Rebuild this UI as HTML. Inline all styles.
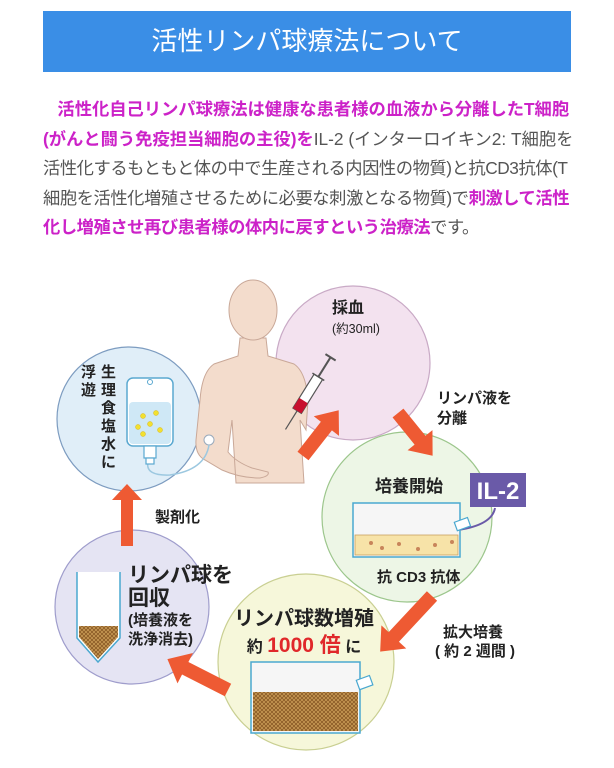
<!DOCTYPE html>
<html><head><meta charset="utf-8"><style>
html,body{margin:0;padding:0;background:#fff;}
body{width:614px;height:768px;position:relative;overflow:hidden;font-family:"Liberation Sans","Noto Sans CJK JP",sans-serif;}
.hd{position:absolute;left:43px;top:11px;width:528px;height:61px;background:#3a8ee6;color:#fff;font-size:26px;text-align:center;line-height:61px;}
.p{position:absolute;left:43px;top:95px;width:540px;font-size:17.3px;line-height:29.5px;color:#555;white-space:nowrap;}
.m{color:#cc22c8;font-weight:bold;}
.t{letter-spacing:-0.45px;}
svg{position:absolute;left:0;top:0;}
</style></head><body>
<div class="hd">活性リンパ球療法について</div>
<div class="p">&nbsp;&nbsp;&nbsp;<span class="m">活性化自己リンパ球療法は健康な患者様の血液から分離したT細胞</span><br><span class="m">(がんと闘う免疫担当細胞の主役)を</span>IL-2 (インターロイキン2: T細胞を<br><span class="t">活性化するもともと体の中で生産される内因性の物質)と抗CD3抗体(T</span><br><span class="t">細胞を活性化増殖させるために必要な刺激となる物質)で<span class="m">刺激して活性</span></span><br><span class="t"><span class="m">化し増殖させ再び患者様の体内に戻すという治療法</span>です。</span></div>
<svg width="614" height="768" font-family="Liberation Sans, Noto Sans CJK JP, sans-serif">
<defs>
<pattern id="hx" width="4" height="4" patternUnits="userSpaceOnUse"><rect width="4" height="4" fill="#c89a55"/><path d="M0 4L4 0M0 0L4 4" stroke="#8a5a25" stroke-width="0.8"/></pattern>
</defs>
<circle cx="129" cy="419" r="72" fill="#e0eef8" stroke="#7d9cc0" stroke-width="1.2"/>
<circle cx="353" cy="363" r="77" fill="#f3e2ef" stroke="#c9aac6" stroke-width="1.2"/>
<circle cx="407" cy="517" r="85" fill="#edf6e6" stroke="#9cc68c" stroke-width="1.2"/>
<circle cx="306" cy="662" r="88" fill="#f6f7da" stroke="#c9cf92" stroke-width="1.2"/>
<circle cx="132" cy="607" r="77" fill="#e5e4f3" stroke="#9f9dcc" stroke-width="1.2"/>
<g fill="#f3dccc" stroke="#c9a898" stroke-width="1">
<path d="M240 338 L238 356 L214 364 Q202 372 200 400 L196 440 Q195 455 205 460 L222 470 Q240 478 260 478 Q270 476 268 472 L252 468 Q236 462 228 452 L232 420 L236 483 L304 483 L300 420 L306 430 L308 400 Q306 372 294 364 L268 356 L266 338 Z"/>
<ellipse cx="253" cy="310" rx="24" ry="30"/>
</g>
<circle cx="209" cy="440" r="5" fill="#fff" stroke="#9ab" stroke-width="1"/>
<path d="M209 445 Q205 470 170 475 Q145 476 148 462" fill="none" stroke="#9cc8e0" stroke-width="1.5"/>
<rect x="127" y="378" width="46" height="68" rx="6" fill="#fff" stroke="#5aa8d0" stroke-width="1.5"/>
<rect x="129" y="402" width="42" height="42" rx="4" fill="#cfe8f6"/>
<circle cx="150" cy="382" r="2.5" fill="#fff" stroke="#5aa8d0"/>
<rect x="144" y="446" width="12" height="12" fill="#fff" stroke="#5aa8d0" stroke-width="1.2"/>
<rect x="146" y="458" width="8" height="6" fill="#fff" stroke="#5aa8d0" stroke-width="1.2"/>
<g fill="#f2e030" stroke="#d9b820" stroke-width="0.5"><circle cx="143" cy="416" r="2.5"/><circle cx="156" cy="413" r="2.5"/><circle cx="138" cy="427" r="2.5"/><circle cx="150" cy="424" r="2.5"/><circle cx="160" cy="430" r="2.5"/><circle cx="143" cy="434" r="2.5"/></g>
<g font-weight="bold" font-size="15" fill="#222">
<text x="101" y="377">生</text><text x="101" y="395">理</text><text x="101" y="413">食</text><text x="101" y="431">塩</text><text x="101" y="449">水</text><text x="101" y="467">に</text>
<text x="81" y="377">浮</text><text x="81" y="395">遊</text>
</g>
<g transform="translate(312,387) rotate(-58)">
<line x1="-50" y1="0" x2="-28" y2="0" stroke="#555" stroke-width="1.2"/>
<rect x="-28" y="-5" width="40" height="10" fill="#fff" stroke="#555" stroke-width="1.2"/>
<rect x="-28" y="-5" width="12" height="10" fill="#c8102e"/>
<line x1="12" y1="0" x2="35" y2="0" stroke="#555" stroke-width="2"/>
<line x1="12" y1="-7" x2="12" y2="7" stroke="#555" stroke-width="1.5"/>
<line x1="35" y1="-6" x2="35" y2="6" stroke="#555" stroke-width="2"/>
</g>
<g fill="#ee5a33">
<path transform="translate(303,456) rotate(-52)" d="M0 -7 L38 -7 L38 -16 L58 0 L38 16 L38 7 L0 7 Z"/>
<path transform="translate(398,413) rotate(51)" d="M0 -7 L35 -7 L35 -16 L55 0 L35 16 L35 7 L0 7 Z"/>
<path transform="translate(432,596) rotate(133)" d="M0 -7 L56 -7 L56 -17 L76 0 L56 17 L56 7 L0 7 Z"/>
<path transform="translate(228,690) rotate(207)" d="M0 -7 L48 -7 L48 -17 L68 0 L48 17 L48 7 L0 7 Z"/>
<path d="M121 546 L133 546 L133 500 L142 500 L127 484 L112 500 L121 500 Z"/>
</g>
<g font-weight="bold" fill="#222">
<text x="332" y="313" font-size="16">採血</text>
<text x="332" y="333" font-size="12.5" font-weight="normal">(約30ml)</text>
<text x="437" y="403" font-size="15">リンパ液を</text>
<text x="437" y="423" font-size="15">分離</text>
<text x="375" y="492" font-size="17">培養開始</text>
<text x="155" y="522" font-size="15">製剤化</text>
<text x="377" y="582" font-size="15">抗 CD3 抗体</text>
<text x="473" y="637" font-size="15" text-anchor="middle">拡大培養</text>
<text x="475" y="656" font-size="15" text-anchor="middle">( 約 2 週間 )</text>
<text x="304" y="625" font-size="20" text-anchor="middle">リンパ球数増殖</text>
<text x="304" y="652" font-size="16" text-anchor="middle">約 <tspan fill="#e0282a" font-size="21">1000 倍</tspan> に</text>
<text x="128" y="582" font-size="21">リンパ球を</text>
<text x="128" y="605" font-size="21">回収</text>
<text x="128" y="625" font-size="15">(培養液を</text>
<text x="128" y="644" font-size="15">洗浄消去)</text>
</g>
<rect x="470" y="473" width="56" height="34" fill="#6a5aa8"/>
<text x="498" y="499" font-size="24" fill="#fff" text-anchor="middle" font-weight="bold">IL-2</text>
<path d="M495 508 Q492 525 458 530" fill="none" stroke="#6a5aa8" stroke-width="2"/>
<rect x="353" y="503" width="107" height="54" fill="#f6f6f6" stroke="#4aa8d0" stroke-width="1.5"/>
<rect x="456" y="522" width="14" height="9" fill="#fff" stroke="#4aa8d0" stroke-width="1.2" transform="rotate(-20 456 527)"/>
<rect x="355" y="535" width="103" height="20" fill="#f7e3a8" stroke="#c8a060" stroke-width="0.8"/>
<g fill="#c8845a"><circle cx="371" cy="543" r="2"/><circle cx="382" cy="548" r="2"/><circle cx="399" cy="544" r="2"/><circle cx="418" cy="549" r="2"/><circle cx="435" cy="545" r="2"/><circle cx="452" cy="542" r="2"/></g>
<rect x="251" y="662" width="109" height="71" fill="#f6f6f6" stroke="#4aa8d0" stroke-width="1.5"/>
<rect x="358" y="680" width="14" height="10" fill="#fff" stroke="#4aa8d0" stroke-width="1.2" transform="rotate(-20 358 685)"/>
<rect x="253" y="692" width="105" height="39" fill="url(#hx)"/>
<path d="M77 572 L77 638 L98 662 L120 638 L120 572" fill="#fff" stroke="#4aa8d0" stroke-width="1.5"/>
<path d="M79 626 L118 626 L118 637 L98 659 L79 637 Z" fill="url(#hx)"/>
</svg>
</body></html>
